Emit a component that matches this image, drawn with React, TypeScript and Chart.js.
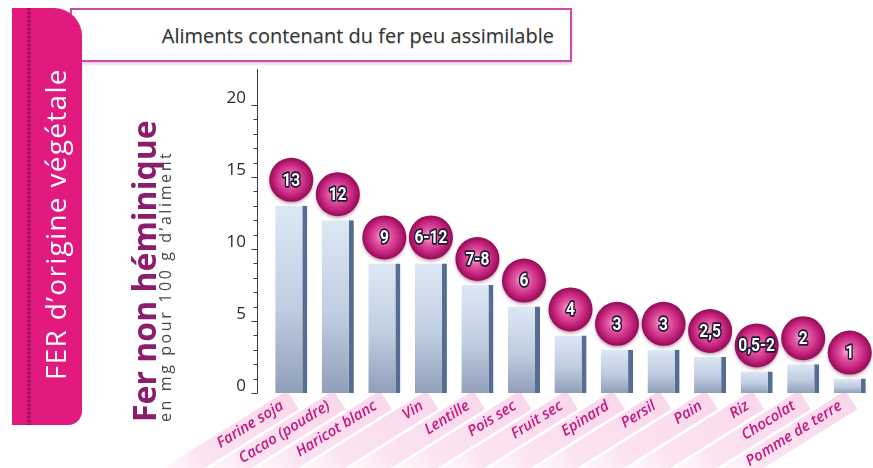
import React, { useEffect, useRef } from 'react';
import { Chart, registerables } from 'chart.js';

Chart.register(...registerables);

const categories = [
  'Farine soja', 'Cacao (poudre)', 'Haricot blanc', 'Vin', 'Lentille', 'Pois sec',
  'Fruit sec', 'Epinard', 'Persil', 'Pain', 'Riz', 'Chocolat', 'Pomme de terre',
];
const ironValues = [13, 12, 9, 9, 7.5, 6, 4, 3, 3, 2.5, 1.5, 2, 1];
const valueLabels = ['13', '12', '9', '6-12', '7-8', '6', '4', '3', '3', '2,5', '0,5-2', '2', '1'];
const yLabelValues = [0, 5, 10, 15, 20];

const LABEL_ANGLE = 32;

const decorPlugin = {
  id: 'decor',
  beforeDraw(chart: any) {
    const { ctx, chartArea, scales } = chart;
    const x = scales.x;
    const y = scales.y;
    const ang = (-LABEL_ANGLE * Math.PI) / 180;
    categories.forEach((_, i) => {
      const px = x.getPixelForTick(i);
      ctx.save();
      ctx.translate(px, chartArea.bottom + 8);
      ctx.rotate(ang);
      const g = ctx.createLinearGradient(-160, 0, 0, 0);
      g.addColorStop(0, 'rgba(250,215,235,0)');
      g.addColorStop(0.35, 'rgba(248,200,228,0.5)');
      g.addColorStop(1, 'rgba(246,190,222,0.6)');
      ctx.fillStyle = g;
      ctx.fillRect(-160, -11, 162, 22);
      ctx.restore();
    });
    const ax = Math.round(chartArea.left - 11) + 0.5;
    ctx.save();
    ctx.strokeStyle = '#3a3a3a';
    ctx.lineWidth = 1;
    ctx.beginPath();
    ctx.moveTo(ax, y.getPixelForValue(y.max));
    ctx.lineTo(ax, y.getPixelForValue(0));
    y.ticks.forEach((t: any) => {
      if (t.value > 20) return;
      const py = Math.round(y.getPixelForValue(t.value)) + 0.5;
      const len = yLabelValues.includes(t.value) ? 6 : 4;
      ctx.moveTo(ax - len, py);
      ctx.lineTo(ax, py);
    });
    ctx.stroke();
    ctx.restore();
  },
  afterDatasetsDraw(chart: any) {
    const { ctx } = chart;
    const meta = chart.getDatasetMeta(0);
    meta.data.forEach((bar: any, i: number) => {
      const cx = bar.x;
      const cy = bar.y - 26;
      const r = 22;
      ctx.save();
      ctx.shadowColor = 'rgba(110,0,60,0.35)';
      ctx.shadowBlur = 3;
      ctx.shadowOffsetY = 2;
      const g = ctx.createRadialGradient(cx - 2, cy - 1, 1, cx, cy, r);
      g.addColorStop(0, '#f6b3d8');
      g.addColorStop(0.3, '#e65aa6');
      g.addColorStop(0.75, '#c01f78');
      g.addColorStop(1, '#8f0d55');
      ctx.beginPath();
      ctx.arc(cx, cy, r, 0, Math.PI * 2);
      ctx.fillStyle = g;
      ctx.fill();
      ctx.restore();

      ctx.save();
      ctx.translate(cx, cy + 1);
      ctx.scale(0.82, 1);
      ctx.font = 'bold 19px Roboto, "DejaVu Sans", sans-serif';
      ctx.textAlign = 'center';
      ctx.textBaseline = 'middle';
      ctx.lineJoin = 'round';
      ctx.lineWidth = 3.5;
      ctx.strokeStyle = '#1d1633';
      ctx.strokeText(valueLabels[i], 0, 0);
      ctx.fillStyle = '#ffffff';
      ctx.fillText(valueLabels[i], 0, 0);
      ctx.restore();
    });
  },
};

export default function App() {
  const canvasRef = useRef<HTMLCanvasElement>(null);

  useEffect(() => {
    document.body.style.margin = '0';
    const canvas = canvasRef.current!;
    const chart = new Chart(canvas, {
      type: 'bar',
      data: {
        labels: categories,
        datasets: [
          {
            data: ironValues,
            backgroundColor: (c: any) => {
              const ch = c.chart;
              const area = ch.chartArea;
              if (!area || !ch.scales.y || c.type !== 'data') return '#c3d0e2';
              const top = ch.scales.y.getPixelForValue(c.raw);
              const grad = ch.ctx.createLinearGradient(0, top, 0, area.bottom);
              grad.addColorStop(0, '#dde8f5');
              grad.addColorStop(0.55, '#bfcde1');
              grad.addColorStop(1, '#909fb9');
              return grad;
            },
            borderColor: '#556d92',
            borderWidth: { top: 0, right: 5, bottom: 0, left: 0 },
            borderSkipped: false,
            barPercentage: 0.69,
            categoryPercentage: 1,
          },
        ],
      },
      options: {
        responsive: false,
        animation: false,
        events: [],
        layout: { padding: { top: 69, left: 0, right: 0, bottom: 0 } },
        plugins: { legend: { display: false }, tooltip: { enabled: false } },
        scales: {
          x: {
            grid: { display: false, drawTicks: false },
            border: { display: false },
            ticks: {
              autoSkip: false,
              minRotation: LABEL_ANGLE,
              maxRotation: LABEL_ANGLE,
              padding: 4,
              labelOffset: -9,
              color: '#c8177f',
              font: { family: '"Open Sans", sans-serif', size: 15, weight: '600', style: 'italic' },
            },
            afterFit(s: any) {
              s.height = 75;
              s.paddingLeft = 0;
              s.paddingRight = 0;
              s.paddingTop = 0;
              s.paddingBottom = 0;
            },
          },
          y: {
            min: 0,
            max: 22.5,
            grid: { display: false, drawTicks: false },
            border: { display: false },
            ticks: {
              stepSize: 1,
              autoSkip: false,
              padding: 22,
              labelOffset: -7,
              color: '#2a2a2a',
              font: { family: '"Open Sans", sans-serif', size: 17 },
              callback: (v: any) => (yLabelValues.includes(Number(v)) ? String(v) : ''),
            },
            afterFit(s: any) {
              s.width = 268;
              s.paddingTop = 0;
              s.paddingBottom = 0;
            },
          },
        },
      },
      plugins: [decorPlugin],
    } as any);
    return () => chart.destroy();
  }, []);

  const rotated = (extra: React.CSSProperties): React.CSSProperties => ({
    position: 'absolute',
    transformOrigin: '0 0',
    transform: 'rotate(-90deg)',
    whiteSpace: 'nowrap',
    lineHeight: 1,
    ...extra,
  });

  return (
    <div
      style={{
        position: 'fixed',
        left: 0,
        top: 0,
        width: 873,
        height: 468,
        background: '#ffffff',
        overflow: 'hidden',
      }}
    >
      <div
        style={{
          position: 'absolute',
          left: 70,
          top: 8,
          width: 482,
          height: 50,
          border: '2px solid #c64daa',
          boxShadow: '0 2px 3px rgba(200,90,170,0.35)',
          display: 'flex',
          alignItems: 'center',
          justifyContent: 'flex-end',
          paddingRight: 16,
          boxSizing: 'content-box',
          fontFamily: '"Open Sans", sans-serif',
          fontSize: 20,
          color: '#333333',
          textShadow: '0 1px 1px rgba(0,0,0,0.2)',
        }}
      >
        Aliments contenant du fer peu assimilable
      </div>
      <canvas
        ref={canvasRef}
        width={873}
        height={468}
        style={{ position: 'absolute', left: 0, top: 0, width: 873, height: 468 }}
      />
      <div
        style={{
          position: 'absolute',
          left: 12,
          top: 8,
          width: 70,
          height: 417,
          background: '#e2197f',
          borderRadius: '0 28px 14px 0',
        }}
      >
        <div
          style={{
            position: 'absolute',
            left: 15,
            top: 0,
            width: 4,
            height: '100%',
            background: 'repeating-linear-gradient(to bottom, #a3145c 0px, #a3145c 2px, #c8186f 2px, #c8186f 4px)',
          }}
        />
      </div>
      <div
        style={rotated({
          left: 41,
          top: 380,
          fontFamily: '"Open Sans", sans-serif',
          fontSize: 28,
          letterSpacing: 1.3,
          color: '#ffffff',
        })}
      >
        FER d’origine végétale
      </div>
      <div
        style={rotated({
          left: 128,
          top: 422,
          fontFamily: '"Open Sans", sans-serif',
          fontSize: 32,
          fontWeight: 700,
          color: '#8a1e6c',
        })}
      >
        Fer non héminique
      </div>
      <div
        style={rotated({
          left: 157,
          top: 422,
          fontFamily: '"Open Sans", sans-serif',
          fontSize: 16,
          letterSpacing: 2.6,
          color: '#4a4a4a',
        })}
      >
        en mg pour 100 g d’aliment
      </div>
    </div>
  );
}
